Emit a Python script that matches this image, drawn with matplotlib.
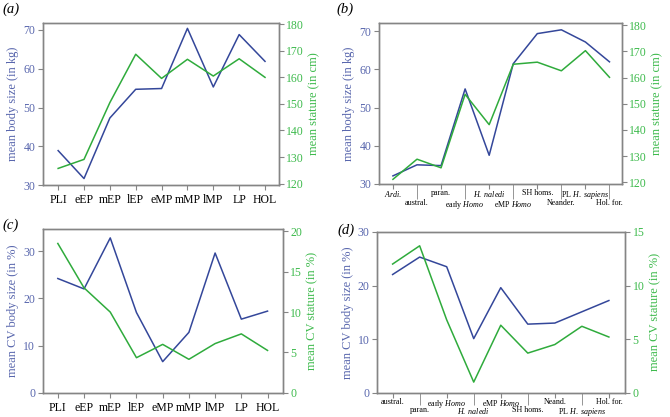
import matplotlib
matplotlib.use("Agg")
import matplotlib.pyplot as plt

plt.rcParams['font.family'] = ['Liberation Serif', 'DejaVu Serif']
plt.rcParams['mathtext.fontset'] = 'custom'
plt.rcParams['mathtext.rm'] = 'Liberation Serif'
plt.rcParams['mathtext.it'] = 'Liberation Serif:italic'

# panel a / c : time periods
periods = ['PLI', 'eEP', 'mEP', 'lEP', 'eMP', 'mMP', 'lMP', 'LP', 'HOL']
a_body = [38.9, 31.7, 47.3, 54.7, 54.9, 70.4, 55.3, 68.8, 61.9]
a_stature = [125.7, 129.1, 150.5, 168.7, 159.6, 166.8, 160.5, 167.0, 160.0]
c_cv_body = [24.2, 22.0, 32.8, 17.0, 6.6, 12.8, 29.6, 15.6, 17.3]
c_cv_stature = [18.5, 13.0, 10.0, 4.35, 6.0, 4.15, 6.1, 7.3, 5.25]

# panel b : taxa
taxa_b = [r'$\it{Ardi.}$', 'austral.', 'paran.', r'early $\it{Homo}$', r'$\it{H.\ naledi}$',
          r'eMP $\it{Homo}$', 'SH homs.', 'Neander.', r'PL $\it{H.\ sapiens}$', 'Hol. for.']
b_body = [32.1, 35.0, 34.8, 54.9, 37.5, 61.5, 69.4, 70.4, 67.2, 62.0]
b_stature = [121.1, 128.8, 125.5, 153.6, 142.0, 165.1, 165.9, 162.6, 170.3, 160.1]

# panel d : taxa
taxa_d = ['austral.', 'paran.', r'early $\it{Homo}$', r'$\it{H.\ naledi}$', r'eMP $\it{Homo}$',
          'SH homs.', 'Neand.', r'PL $\it{H.\ sapiens}$', 'Hol. for.']
d_cv_body = [22.05, 25.3, 23.5, 10.1, 19.6, 12.8, 13.0, 15.1, 17.2]
d_cv_stature = [12.0, 13.7, 6.8, 1.0, 6.3, 3.7, 4.5, 6.2, 5.2]

BLUE = '#34479a'
BLUE_TXT = '#5866ad'
GREEN = '#2fab3c'
GREEN_TXT = '#3dba4c'
GREY = '#858585'

W, H = 670, 417
fig = plt.figure(figsize=(6.7, 4.17), dpi=100)


def panel(rect, cats, body, stat, ylim1, ylim2, yt1, yt2, xlim, ylab1, ylab2,
          letter, letter_xy, small=False, long_tick=10):
    ax = fig.add_axes(rect)
    ax2 = ax.twinx()
    x = list(range(len(cats)))
    ax.plot(x, body, color=BLUE, lw=1.1)
    ax2.plot(x, stat, color=GREEN, lw=1.1)
    ax.set_xlim(*xlim)
    ax.set_ylim(*ylim1)
    ax2.set_ylim(*ylim2)
    ax.set_yticks(yt1)
    ax2.set_yticks(yt2)
    for a in (ax, ax2):
        for s in a.spines.values():
            s.set_color(GREY)
            s.set_linewidth(1.0)
    ax.tick_params(axis='y', colors=GREY, labelcolor=BLUE_TXT, labelsize=8.5, length=3.5, pad=2)
    ax2.tick_params(axis='y', colors=GREY, labelcolor=GREEN_TXT, labelsize=8.5, length=3.5, pad=2)
    if small:
        # two rows of labels: upper row on short ticks, lower row on long ticks
        ax.set_xticks(x[0::2], cats[0::2])
        ax.set_xticks(x[1::2], cats[1::2], minor=True)
        ax.tick_params(axis='x', which='major', colors=GREY, labelcolor='black',
                       labelsize=5.8, length=3.5, pad=0.5)
        ax.tick_params(axis='x', which='minor', colors=GREY, labelcolor='black',
                       labelsize=5.8, length=long_tick, pad=0.5)
    else:
        ax.set_xticks(x, cats)
        ax.tick_params(axis='x', colors=GREY, labelcolor='black', labelsize=8.5, length=3.5, pad=3)
    ax.set_ylabel(ylab1, color=BLUE_TXT, fontsize=9, labelpad=3)
    ax2.set_ylabel(ylab2, color=GREEN_TXT, fontsize=9, labelpad=3)
    fig.text(letter_xy[0] / W, 1 - letter_xy[1] / H, letter, fontsize=10.5,
             style='italic', ha='left', va='center')
    return ax


panel([0.064, 0.556, 0.352, 0.389], periods, a_body, a_stature, (30, 71.8), (119.4, 180.5),
      [30, 40, 50, 60, 70], [120, 130, 140, 150, 160, 170, 180],
      (-0.59, 8.53), 'mean body size (in kg)', 'mean stature (in cm)', '(a)', (2, 9))
panel([0.566, 0.559, 0.362, 0.386], taxa_b, b_body, b_stature, (30, 72.2), (119.35, 180.9),
      [30, 40, 50, 60, 70], [120, 130, 140, 150, 160, 170, 180],
      (-0.57, 9.51), 'mean body size (in kg)', 'mean stature (in cm)', '(b)', (336, 9),
      small=True, long_tick=10.5)
panel([0.064, 0.058, 0.358, 0.393], periods, c_cv_body, c_cv_stature, (0, 34.7), (0, 20.3),
      [0, 10, 20, 30], [0, 5, 10, 15, 20],
      (-0.57, 8.58), 'mean CV body size (in %)', 'mean CV stature (in %)', '(c)', (2, 225))
panel([0.563, 0.058, 0.370, 0.386], taxa_d, d_cv_body, d_cv_stature, (0, 30), (0, 15),
      [0, 10, 20, 30], [0, 5, 10, 15],
      (-0.57, 8.6), 'mean CV body size (in %)', 'mean CV stature (in %)', '(d)', (337, 230),
      small=True, long_tick=8.8)

fig.savefig('out.png', dpi=100)
